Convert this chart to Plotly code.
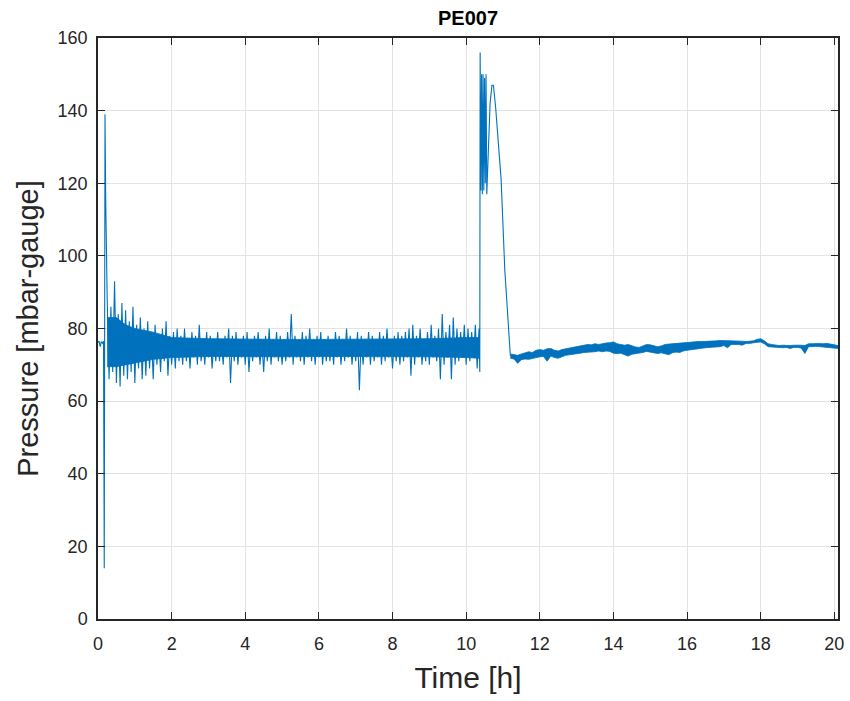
import plotly.graph_objects as go

# ---- data ----
# initial quiet phase + start-up spike
start_t = [0.00, 0.03, 0.06, 0.09, 0.12, 0.15, 0.17, 0.19, 0.21, 0.23]
start_p = [76.2, 76.5, 75.0, 76.4, 76.0, 76.5, 14.0, 139.0, 115.0, 98.0]

# noisy operating phase, sampled every 0.05 h from 0.25 h to 10.35 h (alternating highs / lows)
noisy_t0, noisy_dt = 0.25, 0.05
noisy_p = [
    88, 66, 86, 68, 93, 65, 84, 64, 87, 67, 85, 66, 82, 68, 86, 65, 81, 69, 83, 66,
    80, 67, 82, 69, 79, 66, 81, 70, 78, 68, 80, 71, 82, 67, 78, 70, 79, 69, 80, 71,
    78, 70, 80, 71, 77, 69, 79, 72, 78, 70, 81, 71, 77, 70, 79, 72, 78, 69, 77, 71,
    79, 71, 77, 70, 78, 72, 80, 65, 78, 71, 79, 70, 77, 72, 78, 70, 79, 68, 77, 71,
    78, 72, 79, 70, 77, 68, 78, 71, 80, 70, 77, 72, 79, 71, 78, 70, 77, 71, 79, 72,
    84, 70, 78, 72, 77, 71, 79, 70, 78, 72, 80, 71, 77, 70, 78, 72, 79, 70, 77, 71,
    78, 71, 77, 70, 79, 72, 78, 70, 77, 71, 80, 72, 78, 70, 77, 71, 79, 63, 78, 70,
    77, 72, 79, 70, 78, 71, 77, 72, 79, 70, 78, 71, 80, 72, 77, 69, 78, 71, 79, 70,
    78, 71, 79, 72, 80, 67, 81, 70, 78, 72, 80, 70, 77, 71, 79, 70, 81, 72, 78, 71,
    80, 66, 84, 70, 79, 72, 81, 66, 83, 70, 80, 71, 79, 72, 81, 70, 80, 71, 79, 72,
    81, 69, 80,
]

# dense core of the noisy phase (where the trace is solid blue)
core_t = [0.25, 0.50, 0.75, 1.00, 1.50, 2.00, 3.00, 4.00, 5.00, 6.00, 7.00, 8.00, 9.00, 10.00, 10.36]
core_hi = [83.0, 83.0, 81.0, 80.0, 79.0, 77.5, 77.2, 77.0, 77.0, 77.0, 77.0, 77.0, 77.2, 77.5, 77.5]
core_lo = [69.5, 69.5, 70.0, 70.5, 71.5, 72.0, 72.3, 72.2, 72.2, 72.3, 72.2, 72.3, 72.2, 72.0, 71.8]

# pressure surge around 10.4 h
surge_t = [10.37, 10.38, 10.40, 10.42, 10.44, 10.46, 10.48, 10.50, 10.52, 10.54, 10.56,
           10.60, 10.65, 10.70, 10.74, 10.80, 10.88, 10.95, 11.05, 11.15, 11.20]
surge_p = [68, 156, 118, 150, 117, 150, 118, 149, 120, 150, 117,
           130, 142, 147, 147, 141, 130, 121, 96, 78, 72.5]

# recovery phase: upper / lower extent of the signal every 0.1 h from 11.2 h to 20.1 h
rec_t0, rec_dt = 11.2, 0.1
rec_hi = [
    73.0, 72.8, 72.6, 73.0, 73.2, 73.6, 73.4, 74.0, 74.2, 74.0,
    74.4, 74.5, 74.0, 73.8, 74.2, 74.4, 74.6, 74.8, 75.0, 75.2,
    75.4, 75.6, 75.5, 75.8, 75.6, 75.9, 76.0, 76.1, 76.3, 75.8,
    75.6, 75.4, 75.6, 75.2, 74.9, 74.8, 75.2, 75.6, 75.5, 75.3,
    75.0, 75.2, 75.6, 75.7, 75.8, 76.0, 76.1, 76.0, 76.1, 76.2,
    76.3, 76.4, 76.4, 76.4, 76.4, 76.5, 76.6, 76.7, 76.7, 76.7,
    76.6, 76.7, 76.7, 76.5, 76.4, 76.4, 76.6, 77.0, 77.2, 76.6,
    75.8, 75.6, 75.4, 75.3, 75.4, 75.3, 75.3, 75.4, 75.5, 75.4,
    75.3, 75.8, 75.8, 75.9, 75.9, 75.8, 75.9, 75.7, 75.4, 75.3,
]
rec_lo = [
    71.8, 71.6, 70.4, 71.4, 71.6, 71.5, 71.8, 72.0, 72.2, 72.3,
    71.0, 72.4, 72.0, 71.8, 72.2, 72.6, 72.8, 73.0, 73.1, 73.2,
    73.4, 73.4, 73.6, 73.6, 73.8, 73.6, 73.8, 73.7, 73.2, 73.1,
    73.2, 72.8, 72.4, 72.9, 73.1, 73.2, 73.4, 73.7, 73.6, 73.3,
    73.1, 73.3, 73.0, 72.8, 73.3, 73.5, 73.4, 73.8, 74.0, 74.1,
    74.3, 74.5, 74.6, 74.7, 74.8, 74.9, 75.0, 75.0, 75.3, 74.7,
    75.6, 75.5, 75.6, 75.4, 75.9, 75.9, 76.0, 76.2, 76.3, 75.8,
    75.0, 74.8, 74.8, 74.8, 74.7, 74.8, 74.5, 74.8, 74.8, 74.6,
    73.1, 75.0, 75.0, 75.1, 75.0, 74.9, 75.0, 74.8, 74.6, 74.5,
]

x_ticks = [0, 2, 4, 6, 8, 10, 12, 14, 16, 18, 20]
y_ticks = [0, 20, 40, 60, 80, 100, 120, 140, 160]

# ---- assemble series ----
BLUE = "#0072BD"
noisy_t = [round(noisy_t0 + i * noisy_dt, 4) for i in range(len(noisy_p))]
rec_t = [round(rec_t0 + i * rec_dt, 4) for i in range(len(rec_hi))]

fig = go.Figure()
# solid core of the noisy phase
fig.add_trace(go.Scatter(x=core_t + core_t[::-1], y=core_hi + core_lo[::-1], mode="lines",
                         fill="toself", fillcolor=BLUE,
                         line=dict(color=BLUE, width=0.8), showlegend=False, hoverinfo="skip"))
# band of the recovery phase
fig.add_trace(go.Scatter(x=rec_t + rec_t[::-1], y=rec_hi + rec_lo[::-1], mode="lines",
                         fill="toself", fillcolor=BLUE,
                         line=dict(color=BLUE, width=0.8), showlegend=False, hoverinfo="skip"))
# the signal trace itself
t = start_t + noisy_t + surge_t
p = start_p + noisy_p + surge_p
fig.add_trace(go.Scatter(x=t, y=p, mode="lines",
                         line=dict(color=BLUE, width=1.1), showlegend=False))

FONT = "Liberation Sans, Arial, Helvetica, sans-serif"
axis_common = dict(
    showline=True, linecolor="#262626", linewidth=1.5, mirror="ticks",
    ticks="inside", ticklen=7, tickwidth=1.2, tickcolor="#262626",
    showgrid=True, gridcolor="#e3e3e3", gridwidth=1, zeroline=False,
    automargin=False,
    tickfont=dict(family=FONT, size=18, color="#262626"),
)

fig.update_layout(
    width=850, height=701,
    paper_bgcolor="white", plot_bgcolor="white",
    margin=dict(l=98, r=12, t=38, b=82),
    title=dict(text="<b>PE007</b>", x=0.5, xanchor="center", xref="paper",
               y=1 - 18 / 701, yanchor="middle", yref="container",
               font=dict(family=FONT, size=20, color="black")),
    xaxis=dict(range=[0, 20.1], tickvals=x_ticks, ticktext=[str(v) for v in x_ticks],
               ticklabelstandoff=8,
               title=dict(text="Time [h]", standoff=14,
                          font=dict(family=FONT, size=30, color="#262626")),
               **axis_common),
    yaxis=dict(range=[0, 160], tickvals=y_ticks, ticktext=[str(v) for v in y_ticks],
               ticklabelstandoff=5,
               title=dict(text="Pressure [mbar-gauge]", standoff=10,
                          font=dict(family=FONT, size=29, color="#262626")),
               **axis_common),
)

fig.write_html("out.html", config={"displayModeBar": False},
               post_script="document.body.style.margin='0';")
